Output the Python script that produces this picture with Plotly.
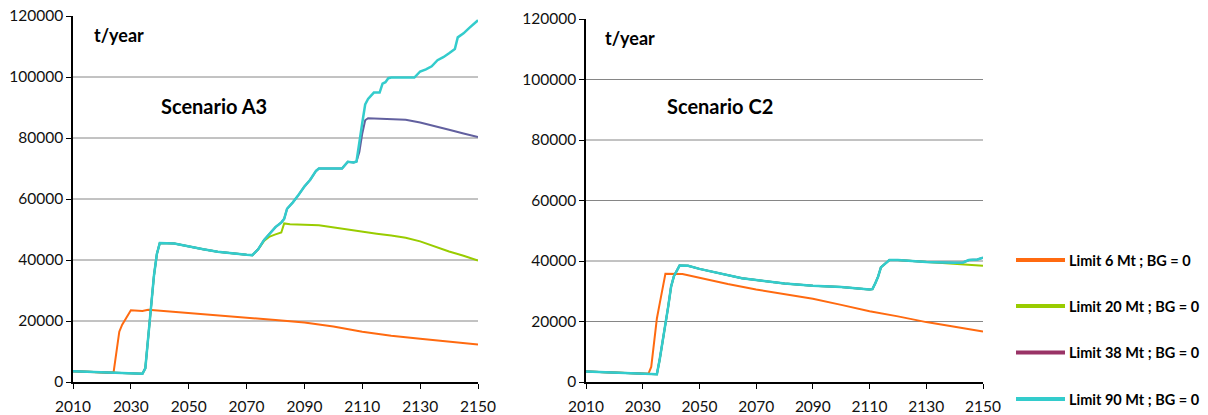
import plotly.graph_objects as go

# ---------------- data ----------------
series_names = ["Limit 6 Mt ; BG = 0", "Limit 20 Mt ; BG = 0",
                "Limit 38 Mt ; BG = 0", "Limit 90 Mt ; BG = 0"]
panel_titles = ["Scenario A3", "Scenario C2"]
unit_label = "t/year"
x_ticks = [2010, 2030, 2050, 2070, 2090, 2110, 2130, 2150]
y_ticks = [0, 20000, 40000, 60000, 80000, 100000, 120000]
grid_vals = [20000, 40000, 60000, 80000, 100000]

# Scenario A3
a3_6_years = [2010, 2015, 2020, 2024, 2026, 2027, 2030, 2034, 2036, 2040, 2050, 2060,
              2070, 2080, 2090, 2100, 2110, 2120, 2130, 2140, 2150]
a3_6_vals = [3500, 3300, 3100, 3000, 16500, 18800, 23500, 23300, 23700, 23400, 22800, 22000,
             21200, 20300, 19500, 18200, 16500, 15200, 14200, 13300, 12300]

a3_common_years = [2010, 2015, 2020, 2025, 2030, 2034, 2035, 2036, 2037, 2038, 2039, 2040,
                   2045, 2050, 2055, 2060, 2065, 2070, 2072, 2074]
a3_common_vals = [3500, 3300, 3100, 3000, 2800, 2700, 4500, 15000, 25500, 35000, 42000, 45600,
                  45400, 44400, 43500, 42700, 42100, 41700, 41600, 43500]

a3_20_years = a3_common_years + [2076, 2078, 2080, 2082, 2083, 2085, 2095, 2100, 2105, 2110,
                                 2115, 2120, 2125, 2130, 2135, 2140, 2145, 2150]
a3_20_vals = a3_common_vals + [46200, 47700, 48400, 49000, 52000, 51700, 51400, 50700, 49900, 49100,
                               48600, 48000, 47300, 46100, 44400, 42800, 41400, 39800]

a3_mid_years = [2076, 2078, 2080, 2082, 2083, 2084, 2086, 2088, 2090, 2092, 2094, 2095,
                2103, 2105, 2107, 2108]
a3_mid_vals = [46500, 48800, 50800, 52300, 53500, 56800, 58900, 61400, 64100, 66300, 69200, 70000,
               70000, 72200, 72000, 72300]

a3_38_years = a3_common_years + a3_mid_years + [2109, 2110, 2111, 2112, 2116, 2122, 2125, 2130,
                                                2135, 2140, 2145, 2150]
a3_38_vals = a3_common_vals + a3_mid_vals + [75500, 81500, 85800, 86500, 86400, 86300, 86000, 85100,
                                             84000, 82700, 81500, 80300]

a3_90_years = a3_common_years + a3_mid_years + [2109, 2110, 2111, 2112, 2114, 2116, 2117, 2118,
                                                2119, 2120, 2128, 2130, 2132, 2134, 2136, 2138,
                                                2140, 2142, 2143, 2145, 2147, 2150]
a3_90_vals = a3_common_vals + a3_mid_vals + [78000, 85000, 91000, 92800, 94900, 94900, 97800, 98300,
                                             99600, 99800, 99800, 101800, 102500, 103500, 105500, 106500,
                                             107800, 109200, 113000, 114300, 116100, 118600]

# Scenario C2
c2_6_years = [2010, 2020, 2030, 2032, 2033, 2034, 2035, 2036, 2037, 2038, 2044, 2050, 2060,
              2070, 2080, 2090, 2100, 2110, 2120, 2130, 2140, 2150]
c2_6_vals = [3500, 3100, 2800, 2700, 5000, 13000, 21000, 26000, 31000, 35800, 35700, 34400, 32400,
             30600, 29100, 27500, 25500, 23400, 21700, 19800, 18300, 16700]

c2_common_years = [2010, 2020, 2030, 2034, 2035, 2036, 2037, 2038, 2039, 2040, 2041, 2043, 2046,
                   2050, 2055, 2060, 2065, 2070, 2080, 2090, 2100, 2110, 2111, 2112, 2113, 2114,
                   2116, 2117, 2120, 2130]
c2_common_vals = [3500, 3100, 2800, 2500, 2600, 7500, 13000, 18500, 25000, 31500, 35000, 38500, 38400,
                  37400, 36300, 35200, 34300, 33700, 32600, 31800, 31400, 30600, 30700, 32600, 34800, 37900,
                  39400, 40300, 40300, 39700]

c2_20_years = c2_common_years + [2135, 2140, 2145, 2150]
c2_20_vals = c2_common_vals + [39300, 39000, 38600, 38400]

c2_90_years = c2_common_years + [2140, 2143, 2145, 2148, 2150]
c2_90_vals = c2_common_vals + [39400, 39500, 40300, 40500, 41100]

c2_38_years = c2_90_years
c2_38_vals = c2_90_vals

# ---------------- styles ----------------
line_colors = ["#FF6A10", "#99CC00", "#62609F", "#33CCCC"]
legend_colors = ["#FF6A10", "#99CC00", "#993366", "#33CCCC"]
line_widths = [2, 2, 2, 2.5]

panels = [
    [(a3_6_years, a3_6_vals), (a3_20_years, a3_20_vals), (a3_38_years, a3_38_vals), (a3_90_years, a3_90_vals)],
    [(c2_6_years, c2_6_vals), (c2_20_years, c2_20_vals), (c2_38_years, c2_38_vals), (c2_90_years, c2_90_vals)],
]

fig = go.Figure()
for p, series in enumerate(panels):
    xa = "x" if p == 0 else "x2"
    ya = "y" if p == 0 else "y2"
    for i, (xs, ys) in enumerate(series):
        fig.add_trace(go.Scatter(x=xs, y=ys, mode="lines", name=series_names[i],
                                 line=dict(color=line_colors[i], width=line_widths[i]),
                                 xaxis=xa, yaxis=ya, showlegend=False))

FONT = "Lato"
tick_font = dict(family=FONT, size=15.5, color="#111111")
axis_common = dict(showline=True, linecolor="black", linewidth=1.5, ticks="outside",
                   ticklen=5, tickcolor="black", tickwidth=1.2, showgrid=False,
                   zeroline=False, tickfont=tick_font, automargin=False,
                   ticklabeloverflow="allow")

# page has an 8px body margin; figure fills the rest of the 1208x415 window
OFF = 8
WIN_W, WIN_H = 1208, 415
W, H = WIN_W - OFF, WIN_H - OFF
PLOT_L, PLOT_R, PLOT_T, PLOT_B = 73, 983, 16, 382   # window pixels of plotting area
ML, MR, MT, MB = PLOT_L - OFF, WIN_W - PLOT_R, PLOT_T - OFF, WIN_H - PLOT_B
PW, PH = PLOT_R - PLOT_L, PLOT_B - PLOT_T


def px(x):
    return (x - PLOT_L) / PW


def py(y):
    return (PLOT_B - y) / PH


fig.update_layout(
    width=W, height=H,
    margin=dict(l=ML, r=MR, t=MT, b=MB, pad=0),
    paper_bgcolor="white", plot_bgcolor="white",
    xaxis=dict(domain=[0, px(478)], range=[2010, 2150], tickvals=x_ticks,
               ticklabelstandoff=5, anchor="y", **axis_common),
    yaxis=dict(domain=[0, 1], range=[0, 120000], tickvals=y_ticks,
               tickformat="d", anchor="x", ticklabelstandoff=0, **axis_common),
    xaxis2=dict(domain=[px(586), 1], range=[2010, 2150], tickvals=x_ticks,
                ticklabelstandoff=5, anchor="y2", **axis_common),
    yaxis2=dict(domain=[0, py(19)], range=[0, 120000], tickvals=y_ticks,
                tickformat="d", anchor="x2", ticklabelstandoff=0, **axis_common),
    showlegend=False,
)

# horizontal gridlines (drawn below traces)
shapes = []
for xr, yr in [("x domain", "y"), ("x2 domain", "y2")]:
    for v in grid_vals:
        shapes.append(dict(type="line", xref=xr, yref=yr, x0=0, x1=1, y0=v, y1=v,
                           line=dict(color="#868686", width=1), layer="below"))

annotations = []
for k in range(2):
    annotations.append(dict(text=unit_label, xref="paper", yref="paper",
                            x=px(92 if k == 0 else 603), y=py(35 if k == 0 else 38),
                            xanchor="left", yanchor="middle", showarrow=False,
                            font=dict(family=FONT, size=18, color="black", weight="bold")))
    annotations.append(dict(text=panel_titles[k], xref="paper", yref="paper",
                            x=px(159 if k == 0 else 665), y=py(106),
                            xanchor="left", yanchor="middle", showarrow=False,
                            font=dict(family=FONT, size=20, color="black", weight="bold")))

# legend (manual)
leg_y = [260, 306, 352.5, 399]
for i, name in enumerate(series_names):
    yy = py(leg_y[i])
    shapes.append(dict(type="line", xref="paper", yref="paper", x0=px(1016), x1=px(1065),
                       y0=yy, y1=yy, line=dict(color=legend_colors[i], width=4)))
    annotations.append(dict(text=name, xref="paper", yref="paper", x=px(1067), y=yy,
                            xanchor="left", yanchor="middle", showarrow=False,
                            font=dict(family=FONT, size=14.5, color="black", weight="bold")))

fig.update_layout(shapes=shapes, annotations=annotations)
fig.write_html("out.html")
